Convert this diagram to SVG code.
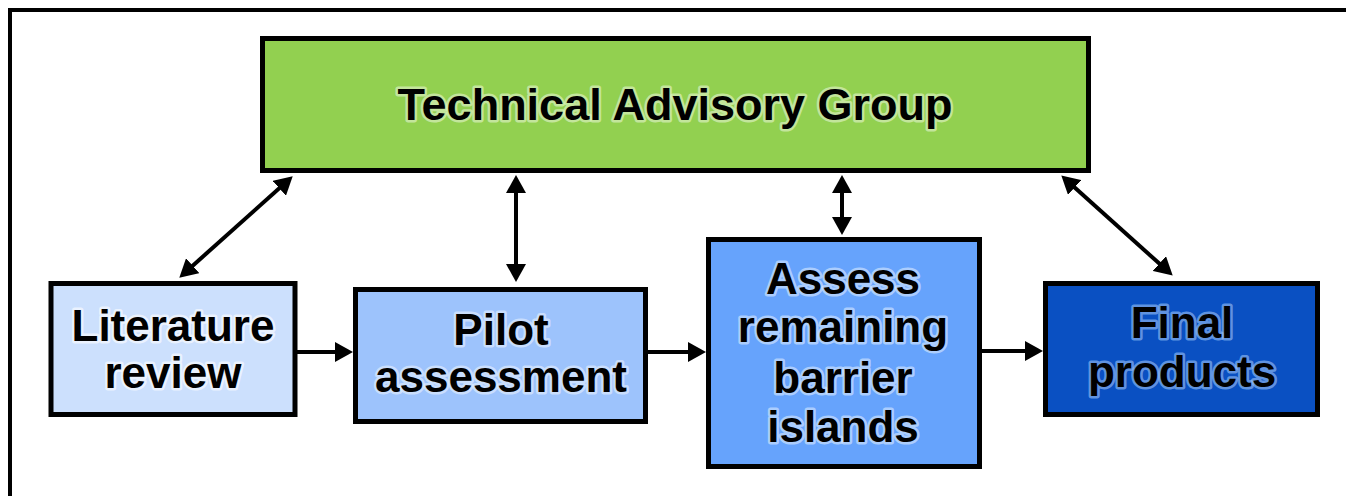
<svg xmlns="http://www.w3.org/2000/svg" width="1346" height="496" viewBox="0 0 1346 496">
<style>
.box{stroke:#000;stroke-width:5}
.t{font-family:"Liberation Sans",Arial,sans-serif;font-weight:bold;font-size:44px;fill:#000;text-anchor:middle;paint-order:stroke;stroke-width:5px;stroke-linejoin:round;stroke-opacity:0.6}
.conn{stroke:#000;stroke-width:4;fill:none}
</style>
<defs>
<marker id="ah" markerUnits="userSpaceOnUse" markerWidth="18" markerHeight="20" refX="9" refY="10" orient="auto-start-reverse" viewBox="0 0 18 20">
<path d="M0,0 L18,10 L0,20 z" fill="#000"/>
</marker>
</defs>
<rect x="0" y="0" width="1346" height="496" fill="#fff"/>
<rect x="10" y="10" width="1350" height="500" fill="none" stroke="#000" stroke-width="4"/>
<g id="tag">
<rect class="box" x="262.5" y="38.5" width="826" height="132" fill="#92D050"/>
<text class="t" x="675" y="120" stroke="#e6f5d0" style="font-size:45px">Technical Advisory Group</text>
</g>
<g id="lit">
<rect class="box" x="51" y="283.5" width="244" height="131" fill="#CCE0FD"/>
<text class="t" x="173" y="341" stroke="#ffffff">Literature</text>
<text class="t" x="173" y="388" stroke="#ffffff">review</text>
</g>
<g id="pilot">
<rect class="box" x="355.5" y="289.5" width="290" height="132" fill="#9DC3FC"/>
<text class="t" x="501" y="345" stroke="#e8f1ff">Pilot</text>
<text class="t" x="501" y="392" stroke="#e8f1ff">assessment</text>
</g>
<g id="assess">
<rect class="box" x="708.5" y="239.5" width="271" height="227" fill="#66A3FC"/>
<text class="t" x="843" y="294" stroke="#dbeaff">Assess</text>
<text class="t" x="843" y="342" stroke="#dbeaff">remaining</text>
<text class="t" x="843" y="393" stroke="#dbeaff">barrier</text>
<text class="t" x="843" y="442" stroke="#dbeaff">islands</text>
</g>
<g id="final">
<rect class="box" x="1045.5" y="283.5" width="272" height="131" fill="#0A50C2"/>
<text class="t" x="1182" y="338" stroke="#9cc2f5">Final</text>
<text class="t" x="1182" y="387" stroke="#9cc2f5">products</text>
</g>
<g id="connectors">
<line class="conn" x1="286" y1="182.3" x2="186" y2="271.7" marker-start="url(#ah)" marker-end="url(#ah)"/>
<line class="conn" x1="516" y1="184" x2="516" y2="273" marker-start="url(#ah)" marker-end="url(#ah)"/>
<line class="conn" x1="842" y1="184" x2="842" y2="226" marker-start="url(#ah)" marker-end="url(#ah)"/>
<line class="conn" x1="1068" y1="181.4" x2="1166" y2="269.6" marker-start="url(#ah)" marker-end="url(#ah)"/>
<line class="conn" x1="293" y1="352" x2="344" y2="352" marker-end="url(#ah)"/>
<line class="conn" x1="646" y1="352" x2="697" y2="352" marker-end="url(#ah)"/>
<line class="conn" x1="980" y1="351" x2="1034" y2="351" marker-end="url(#ah)"/>
</g>
</svg>
